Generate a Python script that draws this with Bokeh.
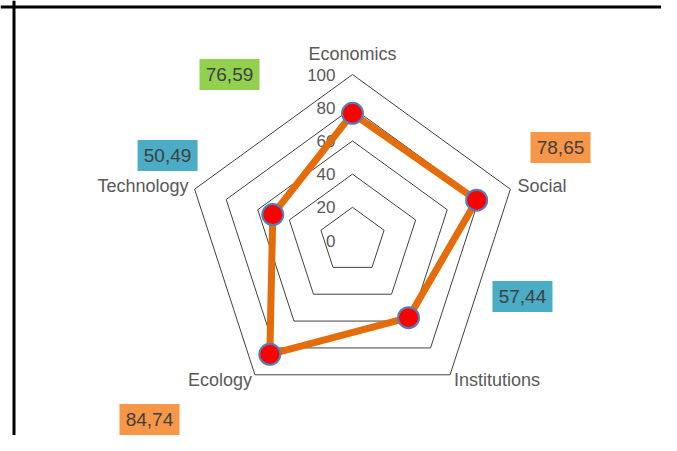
import math
from bokeh.plotting import figure
from bokeh.models import Range1d, Span, ColumnDataSource
from bokeh.core.properties import value
from bokeh.embed import file_html
from bokeh.resources import INLINE

# ---- data ----
categories = ["Economics", "Social", "Institutions", "Ecology", "Technology"]
scores = [76.59, 78.65, 57.44, 84.74, 50.49]
score_labels = ["76,59", "78,65", "57,44", "84,74", "50,49"]
ring_values = [20, 40, 60, 80, 100]
tick_values = [0, 20, 40, 60, 80, 100]
tick_labels = ["0", "20", "40", "60", "80", "100"]

# ---- layout / style ----
W, H = 661, 435
PX = 1.66            # pixels per chart unit
CX, CY = 352, 240    # centre in figure pixels
FONT = "Liberation Sans"
angles = [90, 18, -54, -126, 162]
box_colors = ["#92D050", "#F79646", "#4BACC6", "#F79646", "#4BACC6"]
# label box centres (chart units)
box_pos = [(-74.1, 100.0), (125.3, 56.0), (102.4, -33.7), (-122.3, -107.8), (-111.4, 51.2)]
# category label offsets (pixels) and alignment
cat_off = [(0, 21), (7, 3), (4, -5), (-3, -5), (-6, 3)]
cat_align = ["center", "left", "left", "right", "right"]

p = figure(width=W, height=H, output_backend="svg", toolbar_location=None,
           x_range=Range1d(-CX / PX, (W - CX) / PX),
           y_range=Range1d(-(H - CY) / PX, CY / PX),
           min_border=0)
p.axis.visible = False
p.grid.visible = False
p.outline_line_color = None
p.background_fill_color = "white"
p.border_fill_color = "white"

def pt(r, a):
    return r * math.cos(math.radians(a)), r * math.sin(math.radians(a))

# frame lines (top and left)
p.add_layout(Span(location=(CY - 6.5) / PX, dimension="width", line_color="black", line_width=3))
p.add_layout(Span(location=(13.5 - CX) / PX, dimension="height", line_color="black", line_width=3))

# rings
xs, ys = [], []
for r in ring_values:
    pts = [pt(r, a) for a in angles] + [pt(r, angles[0])]
    xs.append([q[0] for q in pts])
    ys.append([q[1] for q in pts])
p.multi_line(xs, ys, line_color="#404040", line_width=1)

# tick labels
p.text(x=[0] * len(tick_values), y=tick_values, text=tick_labels,
       text_font=value(FONT), text_font_size="17px", text_color="#595959",
       text_align="right", text_baseline="middle", x_offset=-17)

# category labels
for c, a, off, al in zip(categories, angles, cat_off, cat_align):
    x, y = pt(100, a)
    p.text(x=[x], y=[y], text=[c], text_font=value(FONT), text_font_size="18px",
           text_color="#595959", text_align=al, text_baseline="middle",
           x_offset=off[0], y_offset=-off[1])

# data line
dpts = [pt(v, a) for v, a in zip(scores, angles)]
lx = [q[0] for q in dpts] + [dpts[0][0]]
ly = [q[1] for q in dpts] + [dpts[0][1]]
p.line(lx, ly, line_color="#E46C0A", line_width=7, line_join="round")
p.scatter([q[0] for q in dpts], [q[1] for q in dpts], size=21, fill_color="#FF0000",
          line_color="#4F81BD", line_width=2)

# value label boxes
src = ColumnDataSource(dict(x=[b[0] for b in box_pos], y=[b[1] for b in box_pos],
                            c=box_colors, t=score_labels))
p.rect(x="x", y="y", width=60, height=31, width_units="screen", height_units="screen",
       fill_color="c", line_color=None, source=src)
p.text(x="x", y="y", text="t", source=src, text_font=value(FONT), text_font_size="19px",
       text_color="#404040", text_align="center", text_baseline="middle")

open("out.html", "w").write(file_html(p, INLINE))
